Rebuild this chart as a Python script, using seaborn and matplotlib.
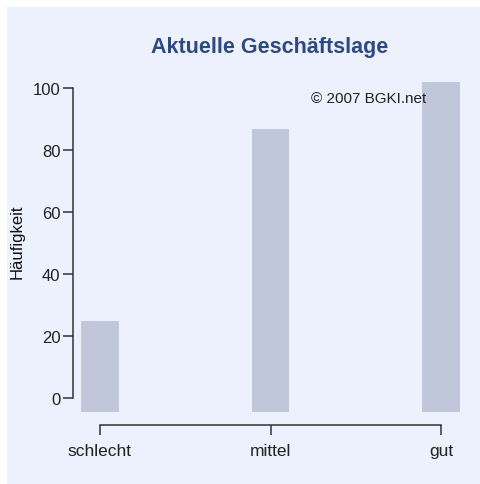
import matplotlib
matplotlib.use('Agg')
import matplotlib.pyplot as plt
import seaborn as sns
import pandas as pd
from matplotlib.patches import Rectangle

categories = ['schlecht', 'mittel', 'gut']
counts = [25, 87, 102]
y_ticks = [0, 20, 40, 60, 80, 100]

title = 'Aktuelle Geschäftslage'
y_label = 'Häufigkeit'
credit = '© 2007 BGKI.net'

panel_color = '#EDF1FD'
bar_color = '#C1C7DB'
axis_color = '#333333'

sns.set_style('white')
plt.rcParams['font.family'] = ['Liberation Sans', 'DejaVu Sans']

df = pd.DataFrame({'lage': categories, 'count': counts})

fig = plt.figure(figsize=(4.8, 4.85), dpi=100, facecolor='white')
# light blue panel behind the whole chart (white margin left and top)
fig.patches.append(Rectangle((7 / 480, 0), 1 - 7 / 480, 1 - 8 / 485,
                             transform=fig.transFigure, facecolor=panel_color,
                             edgecolor='none', zorder=-10))

ax = fig.add_axes([80 / 480, 0.1493, 380 / 480, 0.705])
ax.set_facecolor('none')

ylo = -4.4
sns.barplot(data=df, x='lage', y='count', color=bar_color, width=0.22,
            ax=ax, saturation=1, linewidth=0)
# bars start at the bottom of the plotting region, not at zero
for p, v in zip(ax.patches, counts):
    p.set_y(ylo)
    p.set_height(v - ylo)

ax.set_xlim(-0.117, 2.111)
ax.set_ylim(ylo, 106)

for s in ['top', 'right']:
    ax.spines[s].set_visible(False)
ax.spines['left'].set_position(('outward', 5))
ax.spines['bottom'].set_position(('outward', 9.6))
ax.spines['left'].set_bounds(0, 100)
ax.spines['bottom'].set_bounds(0, 2)
for s in ['left', 'bottom']:
    ax.spines[s].set_color(axis_color)
    ax.spines[s].set_linewidth(1.1)

ax.set_yticks(y_ticks)
ax.set_xticks(range(len(categories)))
ax.set_xticklabels(categories)
ax.tick_params(axis='both', direction='out', length=7, width=1.1,
               color=axis_color, labelcolor='#222222')
ax.tick_params(axis='y', pad=2, left=True, labelsize=12)
ax.tick_params(axis='x', pad=6, bottom=True, labelsize=12.5)

ax.set_xlabel('')
ax.set_ylabel(y_label, fontsize=12, color='#111111', labelpad=6)
ax.set_title(title, fontsize=15.5, fontweight='bold', color='#2E4A84', pad=13)

ax.text(1.24, 96.9, credit, fontsize=11, color='#222222', ha='left', va='center',
        zorder=1)

plt.savefig('out.png', dpi=100, facecolor=fig.get_facecolor())
